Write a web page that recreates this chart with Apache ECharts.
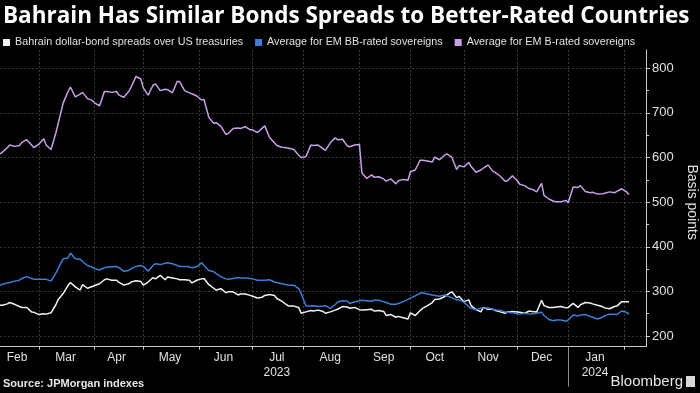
<!DOCTYPE html>
<html><head><meta charset="utf-8">
<script src="https://cdn.jsdelivr.net/npm/echarts@6/dist/echarts.min.js"></script>
<style>html,body{margin:0;padding:0;background:#000;}#c{width:700px;height:393px;}</style>
</head><body><div id="c"></div>
<script>
const dates = [
"2023-02-07","2023-02-08","2023-02-10",
"2023-02-13","2023-02-15","2023-02-17",
"2023-02-20","2023-02-22","2023-02-24",
"2023-02-27","2023-03-01","2023-03-03",
"2023-03-06","2023-03-08","2023-03-10",
"2023-03-13","2023-03-15","2023-03-17",
"2023-03-20","2023-03-22","2023-03-24",
"2023-03-27","2023-03-29","2023-03-31",
"2023-04-03","2023-04-05","2023-04-07",
"2023-04-10","2023-04-12","2023-04-14",
"2023-04-17","2023-04-19","2023-04-21",
"2023-04-24","2023-04-26","2023-04-28",
"2023-05-01","2023-05-03","2023-05-05",
"2023-05-08","2023-05-10","2023-05-12",
"2023-05-15","2023-05-17","2023-05-19",
"2023-05-22","2023-05-24","2023-05-26",
"2023-05-29","2023-05-31","2023-06-02",
"2023-06-05","2023-06-07","2023-06-09",
"2023-06-12","2023-06-14","2023-06-16",
"2023-06-19","2023-06-21","2023-06-23",
"2023-06-26","2023-06-28","2023-06-30",
"2023-07-03","2023-07-05","2023-07-07",
"2023-07-10","2023-07-12","2023-07-14",
"2023-07-17","2023-07-19","2023-07-21",
"2023-07-24","2023-07-26","2023-07-28",
"2023-07-31","2023-08-02","2023-08-04",
"2023-08-07","2023-08-09","2023-08-11",
"2023-08-14","2023-08-16","2023-08-18",
"2023-08-21","2023-08-23","2023-08-25",
"2023-08-28","2023-08-30","2023-09-01",
"2023-09-04","2023-09-06","2023-09-08",
"2023-09-11","2023-09-13","2023-09-15",
"2023-09-18","2023-09-20","2023-09-22",
"2023-09-25","2023-09-27","2023-09-29",
"2023-10-02","2023-10-04","2023-10-06",
"2023-10-09","2023-10-11","2023-10-13",
"2023-10-16","2023-10-18","2023-10-20",
"2023-10-23","2023-10-25","2023-10-27",
"2023-10-30","2023-11-01","2023-11-03",
"2023-11-06","2023-11-08","2023-11-10",
"2023-11-13","2023-11-15","2023-11-17",
"2023-11-20","2023-11-22","2023-11-24",
"2023-11-27","2023-11-29","2023-12-01",
"2023-12-04","2023-12-06","2023-12-08",
"2023-12-11","2023-12-13","2023-12-15",
"2023-12-18","2023-12-20","2023-12-22",
"2023-12-25","2023-12-27","2023-12-29",
"2024-01-01","2024-01-03","2024-01-05",
"2024-01-08","2024-01-10","2024-01-12",
"2024-01-15","2024-01-17","2024-01-19",
"2024-01-22","2024-01-24","2024-01-26",
"2024-01-29","2024-01-31","2024-02-02",
"2024-02-05"
];

const bahrain = [
269,269,272, 275,271,266, 264,264,254, 253,248,250, 249,252,270,
282,295,313, 320,310,303, 315,307,311, 313,317,326, 328,325,325,
320,314,317, 321,324,322, 314,321,331, 328,336,326, 332,330,328,
326,326,325, 319,325,328, 329,315,307, 303,306,297, 299,299,292,
294,294,291, 289,285,287, 291,293,291, 284,278,270, 267,267,264,
251,254,257, 256,258,255, 251,254,258, 260,266,265, 262,264,259,
258,259,260, 256,257,255, 246,248,242, 244,241,238, 252,246,257,
262,268,275, 282,283,288, 292,299,286, 289,277,281, 268,259,254,
264,260,260, 257,254,251, 254,255,254, 253,251,256, 255,254,280,
268,264,264, 265,266,263, 264,273,264, 270,275,274, 272,269,266,
263,261,266, 267,277,277, 277
];

const bbRated = [
314,316,319, 320,323,325, 329,333,329, 327,327,327, 327,323,341,
352,373,375, 386,373,372, 367,358,354, 351,348,353, 354,355,356,
353,345,347, 351,356,358, 356,345,358, 362,360,363, 364,362,358,
356,356,355, 353,355,364, 358,347,344, 340,333,328, 327,329,331,
330,330,329, 328,325,325, 325,326,321, 320,317,315, 314,314,306,
295,267,267, 268,266,267, 268,262,270, 276,279,278, 273,276,279,
280,279,278, 280,280,277, 275,271,271, 273,277,282, 285,290,296,
297,294,292, 291,289,292, 290,286,281, 281,276,266, 262,259,262,
263,263,260, 258,257,254, 253,252,250, 249,251,249, 250,251,253,
246,237,234, 236,236,233, 236,247,245, 247,248,244, 242,238,242,
245,249,249, 248,256,253, 249
];

const bRated = [
608,612,622, 628,625,627, 634,640,628, 622,630,642, 628,618,655,
677,722,748, 758,736,742, 746,732,728, 722,716,748, 748,746,748,
740,735,748, 758,782,776, 756,740,762, 765,750,753, 752,745,771,
770,750,745, 743,738,729, 730,690,677, 678,670,652, 654,665,666,
665,669,662, 662,656,666, 671,645,633, 627,623,622, 621,618,605,
600,602,628, 627,628,620, 616,633,644, 640,641,626, 624,628,629,
566,553,561, 556,557,552, 547,552,541, 548,551,549, 568,572,594,
594,592,590, 601,595,605, 608,601,573, 582,579,589, 580,567,572,
576,583,569, 566,558,547, 548,559,548, 540,537,530, 529,523,542,
515,507,502, 501,501,504, 499,534,533, 537,524,521, 522,518,519,
520,523,521, 524,530,523, 517
];

const seriesNames = [
  'Bahrain dollar-bond spreads over US treasuries',
  'Average for EM BB-rated sovereigns',
  'Average for EM B-rated sovereigns'
];
const seriesColors = ['#f2f2f2', '#3b7fd6', '#c7a0e8'];
const monthNames = ['Jan','Feb','Mar','Apr','May','Jun','Jul','Aug','Sep','Oct','Nov','Dec'];
const yearUnder = {'2023-07':'2023', '2024-01':'2024'};
const axisStartUTC = Date.UTC(2023, 1, 7);
const axisEndUTC = Date.UTC(2024, 1, 14);

// trading-day (weekday) categories for the x axis
function pad(n){ return n < 10 ? '0' + n : '' + n; }
const cats = [];
for (let t = axisStartUTC; t <= axisEndUTC; t += 86400000) {
  const d = new Date(t); const wd = d.getUTCDay();
  if (wd !== 0 && wd !== 6) cats.push(d.getUTCFullYear() + '-' + pad(d.getUTCMonth() + 1) + '-' + pad(d.getUTCDate()));
}
const groups = {};
cats.forEach((c, i) => { const k = c.slice(0, 7); (groups[k] = groups[k] || []).push(i); });
const monthStart = new Set(), monthMid = new Map();
Object.keys(groups).forEach(k => {
  const g = groups[k];
  if (g[0] !== 0) monthStart.add(g[0]);
  if (k !== '2024-02') monthMid.set(g[Math.floor((g.length - 1) / 2)], k);
});
const janSep = groups['2024-01'][0];

const gridLine = { color: 'rgba(255,255,255,0.22)', type: [2, 2], width: 1 };
const axisCol = '#c8c8c8';
const font = 'Liberation Sans';

const chart = echarts.init(document.getElementById('c'), null, { renderer: 'canvas' });
chart.setOption({
  backgroundColor: '#000',
  animation: false,
  textStyle: { fontFamily: font },
  title: [
    { text: 'Bahrain Has Similar Bonds Spreads to Better-Rated Countries', left: 3, top: 5, padding: 0,
      textStyle: { color: '#fff', fontSize: 22.5, fontWeight: 'bold', fontFamily: 'Open Sans' } },
    { text: 'Source: JPMorgan indexes', left: 3, top: 378, padding: 0,
      textStyle: { color: '#e6e6e6', fontSize: 11, fontWeight: 'bold', fontFamily: font } },
    { text: 'Bloomberg', right: 17, top: 374, padding: 0,
      textStyle: { color: '#e6e6e6', fontSize: 15, fontWeight: 'normal', fontFamily: font } }
  ],
  graphic: [
    { type: 'rect', right: 5, top: 376, shape: { width: 9, height: 11 }, style: { fill: '#d8d8d8' } }
  ],
  legend: {
    left: 3, top: 37, padding: 0, icon: 'rect', itemWidth: 7, itemHeight: 7, itemGap: 12,
    textStyle: { color: '#e0e0e0', fontSize: 10.8, fontFamily: font },
    data: seriesNames
  },
  grid: [
    { left: 0, right: 54, top: 50, bottom: 46.3, containLabel: false, outerBoundsMode: 'none' },
    { left: 0, right: 54, top: 68.3, bottom: 57, containLabel: false, outerBoundsMode: 'none' }
  ],
  xAxis: [
    { type: 'category', gridIndex: 0, position: 'bottom', data: cats, boundaryGap: false,
      axisLine: { onZero: false, lineStyle: { color: axisCol, width: 1 } },
      axisTick: { interval: i => monthStart.has(i), length: 3, lineStyle: { color: axisCol } },
      axisLabel: { interval: i => monthMid.has(i), color: '#e0e0e0', fontSize: 12, margin: 3, lineHeight: 15,
        formatter: (v, i) => { const k = v.slice(0, 7); const m = monthNames[+v.slice(5, 7) - 1];
          return yearUnder[k] ? m + '\n' + yearUnder[k] : m; } },
      splitLine: { show: true, interval: i => monthStart.has(i), lineStyle: gridLine } },
    { type: 'category', gridIndex: 0, position: 'bottom', data: cats, boundaryGap: false,
      axisLine: { show: false, onZero: false },
      axisTick: { interval: i => i === janSep, length: 40, lineStyle: { color: '#8a8a8a' } },
      axisLabel: { show: false }, splitLine: { show: false } },
    { type: 'value', gridIndex: 1, position: 'bottom', show: false, min: 0, max: 1, axisLine: { onZero: false } }
  ],
  yAxis: [
    { type: 'value', gridIndex: 0, position: 'right', min: 176, max: 841,
      axisLine: { show: true, onZero: false, lineStyle: { color: axisCol, width: 1 } },
      axisTick: { show: false }, axisLabel: { show: false }, splitLine: { show: false } },
    { type: 'value', gridIndex: 1, position: 'right', min: 200, max: 800, interval: 100,
      axisLine: { show: false, onZero: false },
      axisTick: { show: true, length: 4, lineStyle: { color: axisCol } },
      minorTick: { show: true, splitNumber: 2, length: 3, lineStyle: { color: axisCol } },
      axisLabel: { color: '#e0e0e0', fontSize: 13, margin: 6 },
      splitLine: { show: true, lineStyle: gridLine },
      name: 'Basis points', nameLocation: 'middle', nameRotate: -90, nameGap: 37,
      nameTextStyle: { color: '#e0e0e0', fontSize: 14 } }
  ],
  series: [bahrain, bbRated, bRated].map((vals, s) => ({
    name: seriesNames[s], type: 'line', xAxisIndex: 0, yAxisIndex: 0,
    data: dates.map((d, i) => [d, vals[i]]),
    showSymbol: false, symbol: 'none', color: seriesColors[s],
    lineStyle: { width: 1.5, color: seriesColors[s] }, z: 3 + s
  }))
});
</script></body></html>
